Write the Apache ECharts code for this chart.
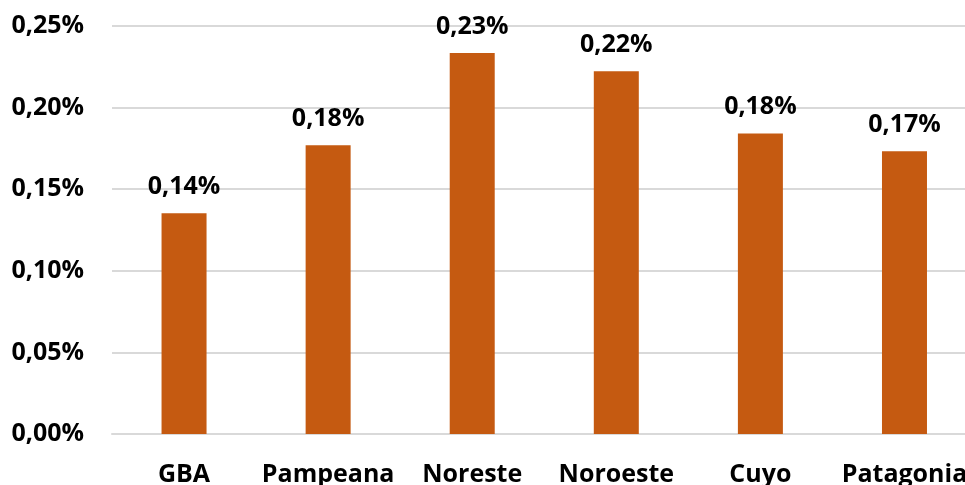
<!DOCTYPE html>
<html>
<head>
<meta charset="utf-8">
<script src="https://cdn.jsdelivr.net/npm/echarts@6/dist/echarts.min.js"></script>
<style>html,body{margin:0;padding:0;background:#fff;overflow:hidden;}#c{width:965px;height:485px;}</style>
</head>
<body>
<div id="c"></div>
<script>
const categories = ['GBA', 'Pampeana', 'Noreste', 'Noroeste', 'Cuyo', 'Patagonia'];
const values = [0.1352, 0.1770, 0.2335, 0.2223, 0.1842, 0.1733];
const yTicks = [0, 0.05, 0.10, 0.15, 0.20, 0.25];

const fmt = v => v.toFixed(2).replace('.', ',') + '%';
const FONT = '"Open Sans", "Noto Sans", sans-serif';
const idx = categories.map((_, i) => i);
const chart = echarts.init(document.getElementById('c'));
chart.setOption({
  animation: false,
  grid: { left: 112, right: 0, top: 26, bottom: 51, containLabel: false, outerBoundsMode: 'none' },
  xAxis: {
    type: 'value',
    min: -0.5,
    max: 5.42,
    splitLine: { show: false },
    axisTick: { show: false },
    axisLine: { show: true, lineStyle: { color: '#d9d9d9', width: 2 } },
    axisLabel: {
      customValues: idx,
      color: '#000', fontFamily: FONT, fontWeight: 'bold', fontSize: 25, margin: 28,
      formatter: v => categories[Math.round(v)] || ''
    }
  },
  yAxis: {
    type: 'value',
    min: yTicks[0],
    max: yTicks[yTicks.length - 1],
    interval: 0.05,
    axisLine: { show: false },
    axisTick: { show: false },
    splitLine: { lineStyle: { color: '#d9d9d9', width: 2 } },
    axisLabel: { color: '#000', fontFamily: FONT, fontWeight: 'bold', fontSize: 25, margin: 28, formatter: fmt }
  },
  series: [{
    type: 'bar',
    data: values.map((v, i) => [i, v]),
    barWidth: 45,
    itemStyle: { color: '#C55A11' },
    label: {
      show: true, position: 'top', distance: 14,
      color: '#000', fontFamily: FONT, fontWeight: 'bold', fontSize: 25,
      formatter: p => fmt(p.value[1])
    }
  }]
});
</script>
</body>
</html>
